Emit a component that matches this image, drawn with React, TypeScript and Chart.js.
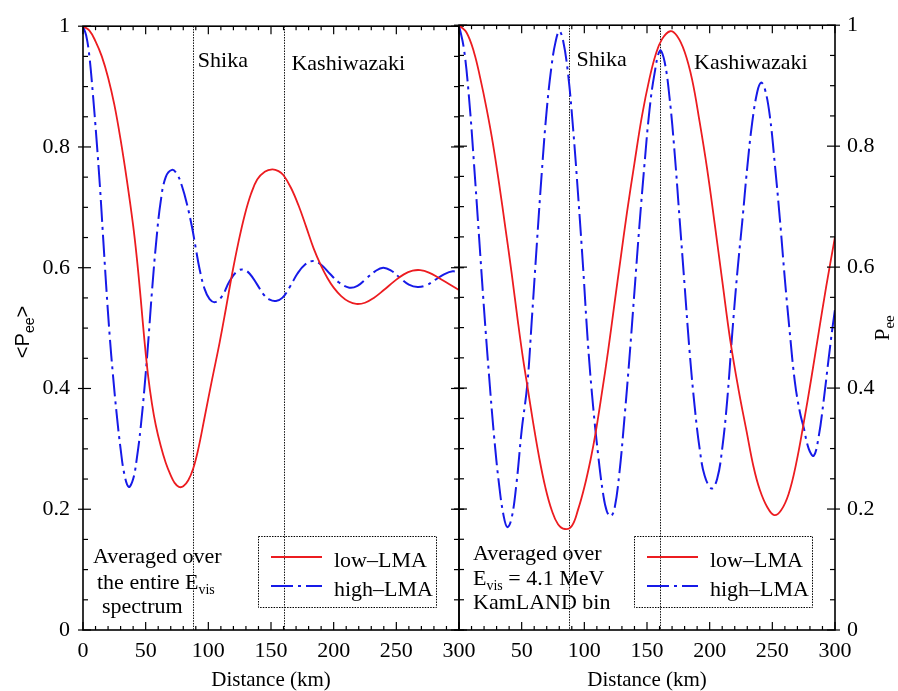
import React, { useEffect, useRef } from "react";
import { Chart, registerables } from "chart.js";

Chart.register(...registerables);

type Pt = [number, number];
type Seg = { t: string; sub?: boolean };

// ---------------- data ----------------
const distanceTicks = [0, 50, 100, 150, 200, 250, 300];
const probabilityTicks = [0, 0.2, 0.4, 0.6, 0.8, 1];
const reactorSites = ["Shika", "Kashiwazaki"];
const reactorDistancesKm = [88, 160];
const seriesLabels = ["low\u2013LMA", "high\u2013LMA"];

// left panel: <Pee> averaged over the entire E_vis spectrum  [km, Pee]
const averagedLowLMA: Pt[] = [
  [0, 1.0], [5, 0.993], [10, 0.975], [15, 0.95], [20, 0.915], [25, 0.87], [30, 0.812],
  [35, 0.745], [40, 0.67], [43, 0.615], [46, 0.55], [49, 0.48], [52, 0.42], [55, 0.375],
  [58, 0.34], [62, 0.305], [66, 0.277], [70, 0.256], [73, 0.244], [76.5, 0.237], [80, 0.238],
  [84, 0.248], [88, 0.268], [92, 0.3], [97, 0.352], [103, 0.415], [109, 0.476], [114, 0.532],
  [119, 0.59], [124, 0.642], [129, 0.687], [134, 0.722], [139, 0.746], [145, 0.759], [151, 0.763],
  [156, 0.76], [160, 0.753], [166, 0.732], [172, 0.703], [178, 0.668], [184, 0.632], [190, 0.603],
  [195, 0.583], [200, 0.567], [206, 0.553], [212, 0.544], [218, 0.54], [225, 0.542], [232, 0.55],
  [240, 0.563], [248, 0.577], [256, 0.589], [263, 0.595], [269, 0.596], [276, 0.592], [284, 0.583],
  [292, 0.573], [300, 0.563],
];
const averagedHighLMA: Pt[] = [
  [0, 1.0], [2.5, 0.985], [5, 0.952], [8, 0.885], [10.7, 0.815], [13.5, 0.735], [16, 0.652],
  [18.5, 0.57], [21.3, 0.487], [24, 0.42], [27, 0.355], [30, 0.3], [33, 0.258], [36.5, 0.237],
  [40, 0.25], [43, 0.285], [46, 0.335], [49, 0.4], [52, 0.476], [55, 0.56], [58.5, 0.645],
  [62, 0.71], [66, 0.75], [71, 0.762], [75, 0.755], [79, 0.735], [83, 0.705], [87, 0.667],
  [90, 0.632], [93, 0.598], [97, 0.565], [101, 0.548], [105.5, 0.543], [111, 0.553], [117, 0.578],
  [123, 0.594], [128, 0.597], [133, 0.59], [139, 0.572], [144, 0.556], [149, 0.547], [154, 0.545],
  [159, 0.55], [165, 0.568], [171, 0.59], [177, 0.605], [183.5, 0.611], [190, 0.605], [197, 0.59],
  [204, 0.576], [212.5, 0.567], [219, 0.57], [226, 0.582], [233, 0.594], [239.5, 0.6], [246, 0.595],
  [253, 0.583], [260, 0.572], [267, 0.568], [274, 0.571], [281, 0.58], [288, 0.589], [295, 0.594],
  [300, 0.592],
];

// right panel: Pee for the E_vis = 4.1 MeV KamLAND bin  [km, Pee]
const binLowLMA: Pt[] = [
  [0, 1.0], [6, 0.988], [12, 0.955], [17, 0.912], [22, 0.862], [27, 0.805], [32, 0.738], [37, 0.665],
  [42, 0.59], [47, 0.51], [51, 0.45], [54.5, 0.404], [59, 0.345], [64, 0.285], [69, 0.235],
  [74, 0.198], [79, 0.175], [84.5, 0.167], [90, 0.172], [95, 0.199], [100, 0.236], [105, 0.282],
  [109, 0.326], [114, 0.392], [119, 0.462], [124, 0.539], [129, 0.615], [134, 0.69], [140, 0.772],
  [146, 0.85], [152, 0.912], [157, 0.952], [162, 0.977], [168.5, 0.99], [174, 0.982], [180, 0.956],
  [186, 0.91], [192, 0.84], [198, 0.762], [204, 0.672], [210, 0.578], [216.5, 0.478], [223, 0.398],
  [229.5, 0.328], [235, 0.27], [240, 0.232], [246, 0.203], [251.5, 0.19], [257, 0.198], [263, 0.225],
  [269, 0.275], [275, 0.342], [281, 0.415], [287, 0.492], [293, 0.568], [300, 0.65],
];
const binHighLMA: Pt[] = [
  [0, 1.0], [4, 0.96], [8, 0.88], [12, 0.77], [16, 0.65], [20, 0.53], [24, 0.42], [28, 0.32],
  [32, 0.24], [35.5, 0.19], [38.6, 0.17], [42, 0.185], [46, 0.245], [50, 0.33], [54.5, 0.406],
  [58, 0.51], [62, 0.635], [66, 0.755], [70, 0.86], [74, 0.935], [77, 0.972], [80, 0.99],
  [83, 0.975], [87, 0.92], [91, 0.83], [95, 0.72], [99, 0.6], [103, 0.47], [107, 0.37], [111, 0.29],
  [115, 0.225], [118, 0.196], [121, 0.188], [124, 0.2], [128, 0.26], [132, 0.35], [136, 0.45],
  [140, 0.56], [144, 0.67], [148, 0.77], [152, 0.86], [156, 0.92], [160.4, 0.958], [164, 0.94],
  [168, 0.88], [172, 0.79], [176, 0.68], [180, 0.57], [184, 0.46], [188, 0.37], [192, 0.3],
  [196, 0.255], [201.6, 0.234], [206, 0.25], [210, 0.3], [214, 0.38], [218, 0.49], [222, 0.59],
  [226, 0.675], [230, 0.765], [234, 0.84], [238, 0.89], [241, 0.905], [244, 0.895], [248, 0.85],
  [252, 0.77], [256, 0.68], [260, 0.58], [264, 0.49], [268, 0.41], [272, 0.36], [275, 0.335],
  [279, 0.3], [283, 0.288], [287, 0.32], [291, 0.38], [295, 0.45], [298, 0.5], [300, 0.53],
];

const averagedNote: Seg[][] = [
  [{ t: "Averaged over" }],
  [{ t: "the entire E" }, { t: "vis", sub: true }],
  [{ t: "spectrum" }],
];
const binNote: Seg[][] = [
  [{ t: "Averaged over" }],
  [{ t: "E" }, { t: "vis", sub: true }, { t: " = 4.1 MeV" }],
  [{ t: "KamLAND bin" }],
];
const averagedYTitle: Seg[] = [{ t: "<P" }, { t: "ee", sub: true }, { t: ">" }];
const binYTitle: Seg[] = [{ t: "P" }, { t: "ee", sub: true }];

// ---------------- styles / layout ----------------
const W = 898;
const H = 691;
const SERIF = "'Liberation Serif', 'Times New Roman', Times, serif";
const SANS = "'Liberation Sans', Arial, Helvetica, sans-serif";
const RED = "rgb(236, 28, 32)";
const BLUE = "rgb(22, 26, 232)";

interface PanelSpec {
  id: string;
  low: Pt[];
  high: Pt[];
  canvasLeft: number;
  canvasWidth: number;
  padLeft: number;
  padRight: number;
  yPosition: "left" | "right";
  yAxisWidth: number;
  yTickPadding: number;
  xTicks: number[];
  siteLabelKm: number[];
  note: Seg[][];
  noteDx: number[];
  noteDy: number[];
  yTitle: Seg[];
  yTitleFont: string;
  yTitleSubFont: string;
  yTitleX: number;
  yTitleY: number;
}

const panels: PanelSpec[] = [
  {
    id: "averaged",
    low: averagedLowLMA,
    high: averagedHighLMA,
    canvasLeft: 0,
    canvasWidth: 500,
    padLeft: 0,
    padRight: 41,
    yPosition: "left",
    yAxisWidth: 83,
    yTickPadding: 13,
    xTicks: distanceTicks,
    siteLabelKm: [91.6, 166.3],
    note: averagedNote,
    noteDx: [10, 14, 19],
    noteDy: [-67, -41, -17],
    yTitle: averagedYTitle,
    yTitleFont: `20px ${SANS}`,
    yTitleSubFont: `14px ${SANS}`,
    yTitleX: 29,
    yTitleY: 332,
  },
  {
    id: "bin",
    low: binLowLMA,
    high: binHighLMA,
    canvasLeft: 420,
    canvasWidth: 478,
    padLeft: 39,
    padRight: 0,
    yPosition: "right",
    yAxisWidth: 63,
    yTickPadding: 12,
    xTicks: distanceTicks.filter((v) => v > 0),
    siteLabelKm: [93.8, 187.5],
    note: binNote,
    noteDx: [14, 14, 14],
    noteDy: [-70, -45, -21],
    yTitle: binYTitle,
    yTitleFont: `22px ${SERIF}`,
    yTitleSubFont: `15px ${SERIF}`,
    yTitleX: 469,
    yTitleY: 328,
  },
];

function drawSegs(ctx: CanvasRenderingContext2D, segs: Seg[], x: number, y: number, font: string, subFont: string, subDy: number) {
  let cx = x;
  for (const s of segs) {
    ctx.font = s.sub ? subFont : font;
    ctx.fillText(s.t, cx, s.sub ? y + subDy : y);
    cx += ctx.measureText(s.t).width;
  }
  return cx - x;
}

function segsWidth(ctx: CanvasRenderingContext2D, segs: Seg[], font: string, subFont: string) {
  let w = 0;
  for (const s of segs) {
    ctx.font = s.sub ? subFont : font;
    w += ctx.measureText(s.t).width;
  }
  return w;
}

function line(ctx: CanvasRenderingContext2D, x1: number, y1: number, x2: number, y2: number) {
  ctx.beginPath();
  ctx.moveTo(x1, y1);
  ctx.lineTo(x2, y2);
  ctx.stroke();
}

function decorPlugin(spec: PanelSpec) {
  return {
    id: "decor-" + spec.id,
    beforeDatasetsDraw(chart: any) {
      const { ctx, chartArea: a, scales } = chart;
      ctx.save();
      ctx.strokeStyle = "#111";
      ctx.lineWidth = 1;
      ctx.setLineDash([1.5, 1.2]);
      reactorDistancesKm.forEach((km) => {
        const px = Math.round(scales.x.getPixelForValue(km)) + 0.5;
        line(ctx, px, a.top, px, a.bottom);
      });
      ctx.restore();
    },
    afterDatasetsDraw(chart: any) {
      const { ctx, chartArea: a, scales } = chart;
      const xs = scales.x;
      const ys = scales.y;
      ctx.save();
      // frame
      ctx.strokeStyle = "#000";
      ctx.lineWidth = 1.6;
      ctx.setLineDash([]);
      ctx.strokeRect(a.left, a.top, a.right - a.left, a.bottom - a.top);
      // inward ticks
      ctx.lineWidth = 1.2;
      for (let km = 0; km <= 300; km += 10) {
        const px = xs.getPixelForValue(km);
        const major = distanceTicks.includes(km);
        const len = major ? 8 : 4;
        line(ctx, px, a.bottom, px, a.bottom - len);
        line(ctx, px, a.top, px, a.top + len);
      }
      for (let i = 0; i <= 20; i++) {
        const py = ys.getPixelForValue(i * 0.05);
        const major = i % 4 === 0;
        if (major) {
          line(ctx, a.left - 5, py, a.left + 8, py);
          line(ctx, a.right + 5, py, a.right - 8, py);
        } else {
          line(ctx, a.left, py, a.left + 5, py);
          line(ctx, a.right, py, a.right - 5, py);
        }
      }
      // site labels
      ctx.fillStyle = "#000";
      ctx.font = `22px ${SERIF}`;
      ctx.textAlign = "left";
      ctx.textBaseline = "alphabetic";
      reactorSites.forEach((name, i) => {
        ctx.fillText(name, xs.getPixelForValue(spec.siteLabelKm[i]), a.top + (i === 0 ? 41 : 44));
      });
      // legend box
      const bx = a.right - 201;
      const by = a.bottom - 94;
      ctx.strokeStyle = "#000";
      ctx.lineWidth = 1;
      ctx.setLineDash([1.5, 1.2]);
      ctx.strokeRect(Math.round(bx) + 0.5, Math.round(by) + 0.5, 178, 71);
      chart.data.datasets.forEach((ds: any, i: number) => {
        const ly = by + 21 + i * 29;
        ctx.strokeStyle = ds.borderColor;
        ctx.lineWidth = ds.borderWidth;
        ctx.setLineDash(ds.borderDash || []);
        line(ctx, bx + 13, ly, bx + 64, ly);
        ctx.fillStyle = "#000";
        ctx.font = `22px ${SERIF}`;
        ctx.fillText(ds.label, bx + 76, ly + 9.5);
      });
      ctx.setLineDash([]);
      // note text
      ctx.fillStyle = "#000";
      spec.note.forEach((segs, i) => {
        drawSegs(ctx, segs, a.left + spec.noteDx[i], a.bottom + spec.noteDy[i], `22px ${SERIF}`, `14px ${SERIF}`, 5);
      });
      ctx.restore();
    },
    afterDraw(chart: any) {
      const { ctx } = chart;
      ctx.save();
      ctx.fillStyle = "#000";
      ctx.textAlign = "left";
      ctx.textBaseline = "alphabetic";
      const w = segsWidth(ctx, spec.yTitle, spec.yTitleFont, spec.yTitleSubFont);
      ctx.translate(spec.yTitleX, spec.yTitleY);
      ctx.rotate(-Math.PI / 2);
      drawSegs(ctx, spec.yTitle, -w / 2, 0, spec.yTitleFont, spec.yTitleSubFont, 5);
      ctx.restore();
    },
  };
}

function buildConfig(spec: PanelSpec): any {
  const toXY = (pts: Pt[]) => pts.map(([x, y]) => ({ x, y }));
  return {
    type: "scatter",
    data: {
      datasets: [
        {
          label: seriesLabels[0],
          data: toXY(spec.low),
          showLine: true,
          borderColor: RED,
          backgroundColor: RED,
          borderWidth: 1.8,
          pointRadius: 0,
          tension: 0.4,
        },
        {
          label: seriesLabels[1],
          data: toXY(spec.high),
          showLine: true,
          borderColor: BLUE,
          backgroundColor: BLUE,
          borderWidth: 2,
          borderDash: [22, 5, 3, 5],
          pointRadius: 0,
          tension: 0.4,
        },
      ],
    },
    options: {
      responsive: false,
      animation: false,
      events: [],
      layout: { padding: { left: spec.padLeft, right: spec.padRight, top: 21, bottom: 0 } },
      plugins: { legend: { display: false }, tooltip: { enabled: false } },
      scales: {
        x: {
          type: "linear",
          position: "bottom",
          min: 0,
          max: 300,
          grid: { display: false, drawTicks: false },
          border: { display: false },
          afterBuildTicks: (s: any) => {
            s.ticks = spec.xTicks.map((v) => ({ value: v }));
          },
          ticks: {
            autoSkip: false,
            maxRotation: 0,
            padding: 8,
            color: "#000",
            font: { family: SERIF, size: 22 },
            callback: (v: any) => String(v),
          },
          title: {
            display: true,
            text: "Distance (km)",
            color: "#000",
            font: { family: SERIF, size: 21, lineHeight: 1 },
            padding: 0,
          },
          afterFit: (s: any) => {
            s.height = 61;
          },
        },
        y: {
          type: "linear",
          position: spec.yPosition,
          min: 0,
          max: 1,
          grid: { display: false, drawTicks: false },
          border: { display: false },
          afterBuildTicks: (s: any) => {
            s.ticks = probabilityTicks.map((v) => ({ value: v }));
          },
          ticks: {
            padding: spec.yTickPadding,
            color: "#000",
            font: { family: SERIF, size: 22 },
            callback: (v: any) => (v === 0 ? "0" : v === 1 ? "1" : Number(v).toFixed(1)),
          },
          afterFit: (s: any) => {
            s.width = spec.yAxisWidth;
          },
        },
      },
    },
    plugins: [decorPlugin(spec)],
  };
}

function PanelChart({ spec }: { spec: PanelSpec }) {
  const ref = useRef<HTMLCanvasElement | null>(null);
  useEffect(() => {
    const canvas = ref.current;
    if (!canvas) return;
    const chart = new Chart(canvas, buildConfig(spec));
    return () => chart.destroy();
  }, [spec]);
  return (
    <canvas
      ref={ref}
      width={spec.canvasWidth}
      height={H}
      style={{ position: "absolute", left: spec.canvasLeft, top: 0, width: spec.canvasWidth, height: H }}
    />
  );
}

export default function App() {
  return (
    <div style={{ position: "absolute", left: 0, top: 0, width: W, height: H, background: "#fff", overflow: "hidden" }}>
      {panels.map((p) => (
        <PanelChart key={p.id} spec={p} />
      ))}
    </div>
  );
}
